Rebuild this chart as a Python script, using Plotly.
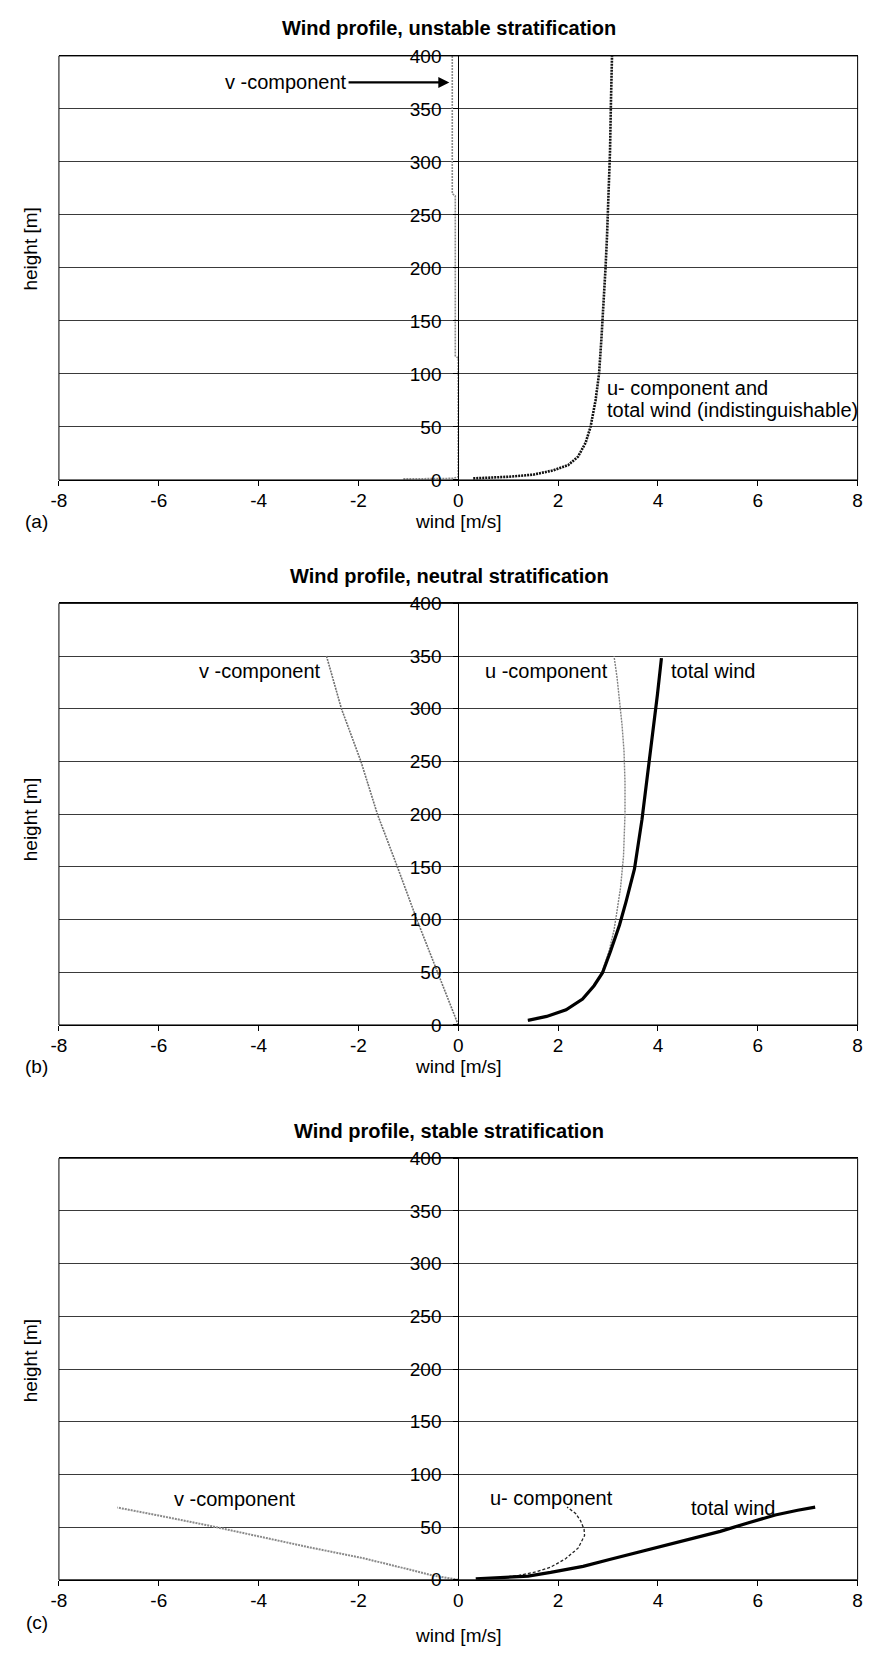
import plotly.graph_objects as go

# ---------------- data ----------------
x_ticks = [-8, -6, -4, -2, 0, 2, 4, 6, 8]
y_ticks = [0, 50, 100, 150, 200, 250, 300, 350, 400]

# (a) unstable stratification
a_u_x = [0.3, 1.0, 1.5, 1.9, 2.2, 2.4, 2.55, 2.65, 2.75, 2.82, 2.87, 2.91, 2.95, 2.98, 3.01, 3.04, 3.06, 3.08]
a_u_y = [1.5, 3, 5, 9, 14, 22, 35, 50, 75, 100, 135, 165, 200, 230, 265, 310, 360, 400]
a_v_x = [-1.1, -0.5, -0.1, 0.0, 0.0, -0.06, -0.06, -0.12, -0.12]
a_v_y = [1, 1.2, 1.5, 3, 115, 117, 268, 270, 400]

# (b) neutral stratification
b_tot_x = [1.395, 1.77, 2.16, 2.49, 2.72, 2.89, 3.05, 3.23, 3.36, 3.53, 3.68, 3.81, 3.91, 3.99, 4.07]
b_tot_y = [4.4, 8.1, 14.4, 24.6, 37.2, 49.6, 70, 94.9, 116.8, 148, 194.8, 244.8, 279, 313.5, 348]
b_u_x = [1.39, 1.77, 2.16, 2.49, 2.72, 2.88, 3.02, 3.12, 3.17, 3.25, 3.31, 3.34, 3.34, 3.32, 3.28, 3.24, 3.18, 3.12]
b_u_y = [4.4, 8.1, 14.4, 24.6, 37.2, 50, 70, 90, 105, 130, 160, 200, 230, 260, 285, 305, 330, 350]
b_v_x = [0.0, -0.41, -0.83, -1.22, -1.62, -1.95, -2.34, -2.64]
b_v_y = [0, 50, 100, 150, 200, 250, 300, 350]

# (c) stable stratification
c_tot_x = [0.35, 0.85, 1.4, 1.85, 2.5, 3.05, 3.6, 4.15, 4.7, 5.25, 5.8, 6.35, 6.8, 7.15]
c_tot_y = [1, 2, 3.5, 7, 12.8, 19.5, 26, 32.5, 39, 46, 54, 61.5, 66, 69]
c_u_x = [0.4, 0.85, 1.2, 1.55, 1.85, 2.15, 2.4, 2.53, 2.52, 2.45, 2.35, 2.18]
c_u_y = [1, 2, 4, 7.5, 12, 20, 30, 42, 48, 56, 63, 69]
c_v_x = [0.0, -0.5, -1.0, -1.9, -3.0, -4.0, -5.0, -6.0, -6.83]
c_v_y = [0, 4, 10, 20.5, 31, 41.5, 51.5, 61, 68.6]

titles = ["Wind profile, unstable stratification",
          "Wind profile, neutral stratification",
          "Wind profile, stable stratification"]
panel_tags = ["(a)", "(b)", "(c)"]

# ---------------- layout geometry (pixels) ----------------
W, H = 870, 1655
L, R = 51.7, 862.5
panels = [(46.5, 476), (601, 1028), (1163, 1590)]
FONT = "Liberation Sans, Arial, Helvetica, sans-serif"
TICK = 19
LAB = 20


def px(x):
    return x / W


def py(y):
    return 1 - y / H


fig = go.Figure()

traces = [
    (1, a_v_x, a_v_y, dict(color="#8a8a8a", width=1.6, dash="2px,1px")),
    (1, a_u_x, a_u_y, dict(color="#111111", width=2.6, dash="2px,1px")),
    (2, b_v_x, b_v_y, dict(color="#6e6e6e", width=1.6, dash="2px,1px")),
    (2, b_u_x, b_u_y, dict(color="#808080", width=1.4, dash="2px,1px")),
    (2, b_tot_x, b_tot_y, dict(color="#000000", width=3.2)),
    (3, c_v_x, c_v_y, dict(color="#8a8a8a", width=2.0, dash="2px,1px")),
    (3, c_u_x, c_u_y, dict(color="#222222", width=1.3, dash="3px,2px")),
    (3, c_tot_x, c_tot_y, dict(color="#000000", width=3.2)),
]
for k, xs, ys, ln in traces:
    sfx = "" if k == 1 else str(k)
    fig.add_trace(go.Scatter(x=xs, y=ys, mode="lines", line=ln,
                             xaxis="x" + sfx, yaxis="y" + sfx,
                             showlegend=False, hoverinfo="skip"))

layout = dict(width=W, height=H, margin=dict(l=0, r=0, t=0, b=0),
              paper_bgcolor="white", plot_bgcolor="white", showlegend=False,
              font=dict(family=FONT, size=TICK, color="black"))

xd = [px(L), px(R)]
center = (xd[0] + xd[1]) / 2
annotations = []
shapes = []
for i, (top, bot) in enumerate(panels):
    k = i + 1
    sfx = "" if k == 1 else str(k)
    layout["xaxis" + sfx] = dict(
        domain=xd, range=[-8, 8], anchor="y" + sfx,
        tickvals=x_ticks, ticktext=[str(v) for v in x_ticks],
        ticks="outside", ticklen=5, tickcolor="black", tickwidth=1,
        ticklabelstandoff=-2,
        showline=True, linecolor="black", linewidth=1, mirror=True,
        showgrid=False, zeroline=False, fixedrange=True,
        tickfont=dict(size=TICK, family=FONT))
    layout["yaxis" + sfx] = dict(
        domain=[py(bot), py(top)], range=[0, 400], anchor="free", position=center,
        tickvals=y_ticks, ticktext=[str(v) for v in y_ticks],
        ticks="outside", ticklen=5, tickcolor="black", tickwidth=1,
        ticklabelstandoff=8,
        showline=True, linecolor="black", linewidth=1,
        showgrid=True, gridcolor="#3a3a3a", gridwidth=1,
        zeroline=False, fixedrange=True,
        tickfont=dict(size=TICK, family=FONT))
    shapes.append(dict(type="rect", xref="x" + sfx + " domain", yref="y" + sfx + " domain",
                       x0=0, x1=1, y0=0, y1=1, line=dict(color="black", width=1),
                       layer="above"))
    # title
    annotations.append(dict(text="<b>" + titles[i] + "</b>", xref="paper", yref="paper",
                            x=px(448), y=py(top - 28), showarrow=False,
                            xanchor="center", yanchor="middle",
                            font=dict(size=LAB, family=FONT)))
    # y title
    ymid = {0: 242, 1: 820, 2: 1368}[i]
    annotations.append(dict(text="height [m]", xref="paper", yref="paper",
                            x=px(23), y=py(ymid), showarrow=False, textangle=-90,
                            xanchor="center", yanchor="middle",
                            font=dict(size=TICK, family=FONT)))
    # x title and panel tag
    xt_y = bot + (42 if i < 2 else 56)
    tag_y = bot + (42 if i < 2 else 43)
    annotations.append(dict(text="wind [m/s]", xref="paper", yref="paper",
                            x=px(457), y=py(xt_y), showarrow=False,
                            xanchor="center", yanchor="middle",
                            font=dict(size=TICK, family=FONT)))
    annotations.append(dict(text=panel_tags[i], xref="paper", yref="paper",
                            x=px(29), y=py(tag_y), showarrow=False,
                            xanchor="center", yanchor="middle",
                            font=dict(size=TICK, family=FONT)))

# series labels
lab = dict(showarrow=False, yanchor="middle", font=dict(size=LAB, family=FONT))
annotations += [
    dict(text="v -component", x=-0.18, y=375, xref="x", yref="y",
         ax=-3.45, ay=375, axref="x", ayref="y", showarrow=True,
         arrowhead=2, arrowsize=1, arrowwidth=2.2, arrowcolor="black",
         font=dict(size=LAB, family=FONT)),
    dict(text="u- component and", x=2.94, y=87, xref="x", yref="y", xanchor="left", **lab),
    dict(text="total wind (indistinguishable)", x=2.94, y=66, xref="x", yref="y", xanchor="left", **lab),
    dict(text="v -component", x=-2.70, y=336, xref="x2", yref="y2", xanchor="right", **lab),
    dict(text="u -component", x=1.76, y=336, xref="x2", yref="y2", xanchor="center", **lab),
    dict(text="total wind", x=4.22, y=336, xref="x2", yref="y2", xanchor="left", **lab),
    dict(text="v -component", x=-4.48, y=77, xref="x3", yref="y3", xanchor="center", **lab),
    dict(text="u- component", x=1.87, y=77.5, xref="x3", yref="y3", xanchor="center", **lab),
    dict(text="total wind", x=5.52, y=68, xref="x3", yref="y3", xanchor="center", **lab),
]

layout["annotations"] = annotations
layout["shapes"] = shapes
fig.update_layout(**layout)
fig.write_html("out.html")
